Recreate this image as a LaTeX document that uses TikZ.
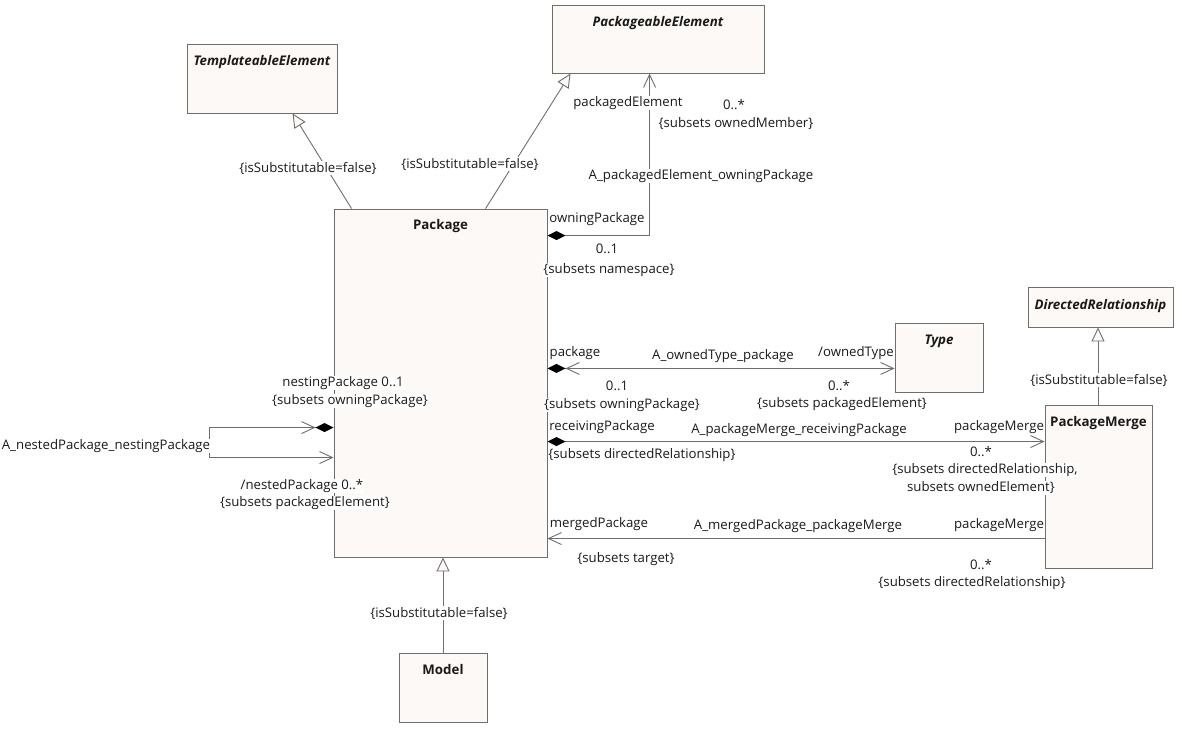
\documentclass[tikz,border=0pt]{standalone}
\usepackage{fontspec}
\setmainfont{Open Sans}
\usetikzlibrary{arrows.meta,calc}
\definecolor{boxfill}{HTML}{FDF9F6}
\definecolor{edge}{HTML}{6E6E6E}
\definecolor{txt}{HTML}{1A1A1A}
\begin{document}
\begin{tikzpicture}[x=1pt,y=-1pt,
  cls/.style={draw=edge, fill=boxfill, line width=0.9pt, inner sep=0pt},
  ttl/.style={font=\fontsize{13.3}{15}\selectfont\bfseries\itshape, text=txt, inner sep=0pt},
  ttlc/.style={font=\fontsize{13.3}{15}\selectfont\bfseries, text=txt, inner sep=0pt},
  lbl/.style={font=\fontsize{13.2}{18}\selectfont, text=txt, fill=white, inner sep=0.5pt, align=center},
  conn/.style={draw=edge, line width=0.9pt},
  gen/.style={conn, -{Triangle[length=14,width=13,fill=boxfill]}},
  barb/.tip={Straight Barb[length=13,width=12]},
  dia/.tip={Kite[length=18,width=9,inset=9,color=black]}
]
\useasboundingbox (0,0) rectangle (1182,731);
% classes
\node[cls, minimum width=150, minimum height=69] (te) at (262,78.5) {};
\node[cls, minimum width=212, minimum height=68] (pe) at (658,39) {};
\node[cls, minimum width=213, minimum height=348] (pkg) at (440.5,383) {};
\node[cls, minimum width=88, minimum height=69] (type) at (939,357.5) {};
\node[cls, minimum width=145, minimum height=40] (dr) at (1100.5,307) {};
\node[cls, minimum width=107, minimum height=163] (pm) at (1098.5,486.5) {};
\node[cls, minimum width=88, minimum height=69] (model) at (443,687.5) {};
\node[ttl] at ($(te.north)+(0,18)$) {TemplateableElement};
\node[ttl] at ($(pe.north)+(0,18)$) {PackageableElement};
\node[ttlc] at ($(pkg.north)+(0,17)$) {Package};
\node[ttl] at ($(type.north)+(0,19)$) {Type};
\node[ttl] at ($(dr.north)+(0,19)$) {DirectedRelationship};
\node[ttlc] at ($(pm.north)+(0,18)$) {PackageMerge};
\node[ttlc] at ($(model.north)+(0,17)$) {Model};
% generalizations
\draw[gen] ($(pkg.north west)+(18,0)$) -- ($(te.south west)+(106,0)$);
\draw[gen] ($(pkg.north west)+(152,0)$) -- ($(pe.south west)+(19,0)$);
\draw[gen] (model.north) -- (model.north |- pkg.south);
\draw[gen] ($(pm.north)+(-0.5,0)$) -- ($(pm.north |- dr.south)+(-0.5,0)$);
% associations
\coordinate (peend) at ($(pe.south west)+(98,0)$);
\draw[conn, {dia[]}-{barb[]}] ($(pkg.north east)+(0,27)$) -| (peend);
\coordinate (tyend) at ($(type.south west)+(0,-24)$);
\draw[conn, {dia[]barb[]}-{barb[]}] (pkg.east |- tyend) -- (tyend);
\coordinate (rcend) at ($(pm.north west)+(0,37)$);
\draw[conn, {dia[]}-{barb[]}] (pkg.east |- rcend) -- (rcend);
\coordinate (mgstart) at ($(pm.north west)+(0,134)$);
\draw[conn, -{barb[]}] (mgstart) -- (pkg.east |- mgstart);
\coordinate (selfa) at ($(pkg.north west)+(0,219)$);
\coordinate (selfb) at ($(pkg.north west)+(0,249)$);
\draw[conn, {barb[]}-{barb[]dia[]}] (selfb) -- ++(-124,0) |- (selfa);
% labels
\node[lbl] at (308,168) {\{isSubstitutable=false\}};
\node[lbl] at (470,164) {\{isSubstitutable=false\}};
\node[lbl] at (439,613) {\{isSubstitutable=false\}};
\node[lbl] at (1099,380) {\{isSubstitutable=false\}};
\node[lbl] at (628,103) {packagedElement};
\node[lbl] at (734,105) {0..*};
\node[lbl] at (736,124) {\{subsets ownedMember\}};
\node[lbl] at (701,176) {A\_packagedElement\_owningPackage};
\node[lbl] at (597,219) {owningPackage};
\node[lbl] at (607,249) {0..1};
\node[lbl] at (609,270) {\{subsets namespace\}};
\node[lbl] at (575,353) {package};
\node[lbl] at (723,356) {A\_ownedType\_package};
\node[lbl] at (856,353) {/ownedType};
\node[lbl] at (617,386) {0..1};
\node[lbl] at (622,405) {\{subsets owningPackage\}};
\node[lbl] at (839,386) {0..*};
\node[lbl] at (842,404) {\{subsets packagedElement\}};
\node[lbl] at (602,427) {receivingPackage};
\node[lbl] at (799,430) {A\_packageMerge\_receivingPackage};
\node[lbl] at (999,427) {packageMerge};
\node[lbl] at (642,455) {\{subsets directedRelationship\}};
\node[lbl] at (981,452) {0..*};
\node[lbl] at (985,470) {\{subsets directedRelationship,};
\node[lbl] at (981,488) {subsets ownedElement\}};
\node[lbl] at (599,524) {mergedPackage};
\node[lbl] at (798,526) {A\_mergedPackage\_packageMerge};
\node[lbl] at (999,525) {packageMerge};
\node[lbl] at (626,559) {\{subsets target\}};
\node[lbl] at (981,565) {0..*};
\node[lbl] at (972,583) {\{subsets directedRelationship\}};
\node[lbl] at (106,446) {A\_nestedPackage\_nestingPackage};
\node[lbl] at (343,383) {nestingPackage 0..1};
\node[lbl] at (350,401) {\{subsets owningPackage\}};
\node[lbl] at (302,486) {/nestedPackage 0..*};
\node[lbl] at (305,503) {\{subsets packagedElement\}};
\end{tikzpicture}
\end{document}
